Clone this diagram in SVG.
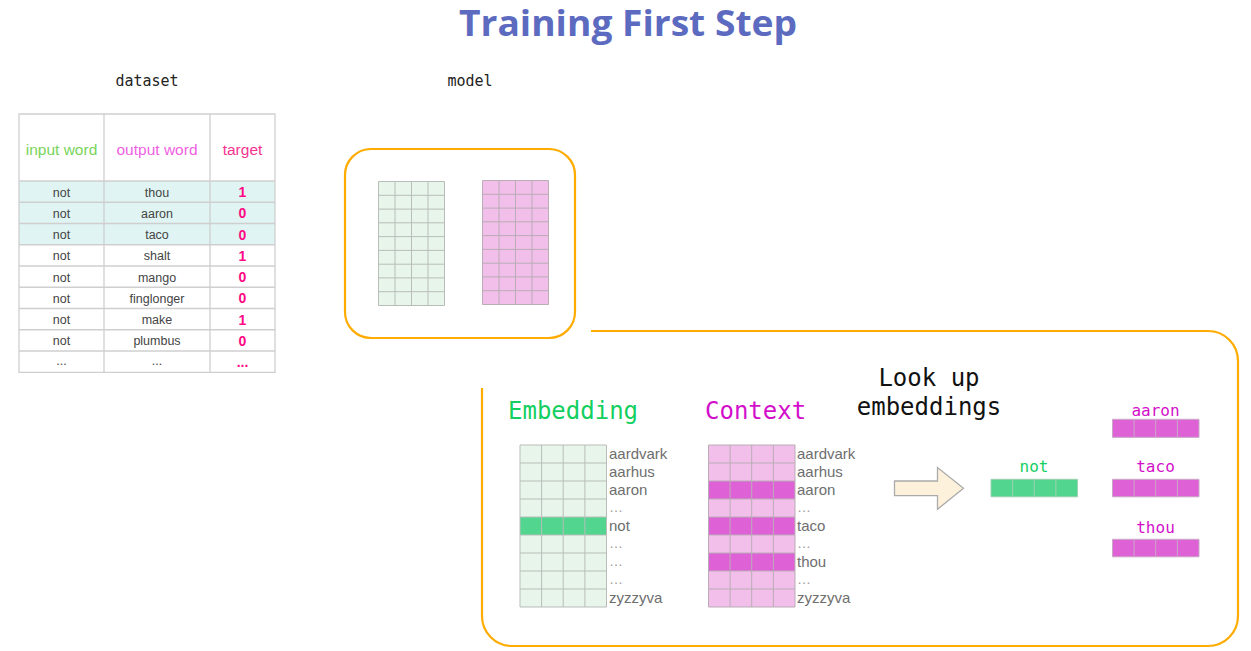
<svg xmlns="http://www.w3.org/2000/svg" width="1251" height="651" viewBox="0 0 1251 651">
<style>
.mono{font-family:"DejaVu Sans Mono","Liberation Mono",monospace}
.sans{font-family:"Liberation Sans",Arial,sans-serif}
.cell{font-family:"Liberation Sans",Arial,sans-serif;font-size:12.5px;fill:#444;text-anchor:middle}
.tgt{font-family:"Liberation Sans",Arial,sans-serif;font-size:14px;font-weight:bold;fill:#ff0a84;text-anchor:middle}
.grid{stroke:#cfcfcf;stroke-width:1.3;fill:none}
.mgrid{stroke:#b8bdb9;stroke-width:1;fill:none}
.pgrid{stroke:#b9adb6;stroke-width:1;fill:none}
.lbl{font-family:"Liberation Sans",Arial,sans-serif;font-size:15px;fill:#6e6e6e}
.dots{font-family:"Liberation Sans",Arial,sans-serif;font-size:14px;fill:#9a9a9a}
.box{fill:none;stroke:#ffab00;stroke-width:2.2}
.g1{fill:#e8f5ea}
.g2{fill:#52d68f}
.p1{fill:#f2bfea}
.p2{fill:#de62d6}
</style>

<g id="title">
<text x="628" y="36" text-anchor="middle" font-family="'Open Sans','Noto Sans',sans-serif" font-weight="bold" font-size="36" fill="#5c6bc0" textLength="338" lengthAdjust="spacingAndGlyphs">Training First Step</text>
</g>

<g id="dataset">
<text class="mono" x="147" y="86" font-size="15" text-anchor="middle" fill="#222">dataset</text>
<rect x="19" y="114" width="256" height="67" fill="#fff"/>
<rect x="19" y="181" width="256" height="63.75" fill="#e0f5f3"/>
<text class="sans" x="61.5" y="154.5" font-size="15.5" text-anchor="middle" fill="#78d45a">input word</text>
<text class="sans" x="157" y="154.5" font-size="15.5" text-anchor="middle" fill="#ef5fe2">output word</text>
<text class="sans" x="242.5" y="154.5" font-size="15.5" text-anchor="middle" fill="#f5338f">target</text>
<path class="grid" d="M19 114H275V372.3H19Z M104 114V372.3 M210 114V372.3 M19 181H275 M19 202.25H275 M19 223.5H275 M19 244.75H275 M19 266H275 M19 287.25H275 M19 308.5H275 M19 329.75H275 M19 351H275"/>
<g>
<text class="cell" x="61.5" y="196.5">not</text><text class="cell" x="157" y="196.5">thou</text><text class="tgt" x="242.5" y="197">1</text>
<text class="cell" x="61.5" y="217.7">not</text><text class="cell" x="157" y="217.7">aaron</text><text class="tgt" x="242.5" y="218.2">0</text>
<text class="cell" x="61.5" y="239">not</text><text class="cell" x="157" y="239">taco</text><text class="tgt" x="242.5" y="239.5">0</text>
<text class="cell" x="61.5" y="260.2">not</text><text class="cell" x="157" y="260.2">shalt</text><text class="tgt" x="242.5" y="260.7">1</text>
<text class="cell" x="61.5" y="281.5">not</text><text class="cell" x="157" y="281.5">mango</text><text class="tgt" x="242.5" y="282">0</text>
<text class="cell" x="61.5" y="302.7">not</text><text class="cell" x="157" y="302.7">finglonger</text><text class="tgt" x="242.5" y="303.2">0</text>
<text class="cell" x="61.5" y="324">not</text><text class="cell" x="157" y="324">make</text><text class="tgt" x="242.5" y="324.5">1</text>
<text class="cell" x="61.5" y="345.2">not</text><text class="cell" x="157" y="345.2">plumbus</text><text class="tgt" x="242.5" y="345.7">0</text>
<text class="cell" x="61.5" y="365" font-size="7" fill="#aaa">...</text><text class="cell" x="157" y="365" font-size="7" fill="#aaa">...</text><text class="tgt" x="242.5" y="367" font-size="16">...</text>
</g>
</g>

<g id="model">
<text class="mono" x="470" y="86" font-size="15" text-anchor="middle" fill="#222">model</text>
<rect class="box" x="345" y="149" width="230" height="189" rx="26"/>
<rect class="g1" x="378.5" y="181.5" width="66" height="124"/>
<path class="mgrid" d="M378.5 181.5H444.5V305.5H378.5Z M395 181.5V305.5 M411.5 181.5V305.5 M428 181.5V305.5 M378.5 195.3H444.5 M378.5 209.1H444.5 M378.5 222.8H444.5 M378.5 236.6H444.5 M378.5 250.4H444.5 M378.5 264.2H444.5 M378.5 277.9H444.5 M378.5 291.7H444.5"/>
<rect class="p1" x="482.5" y="180.5" width="66" height="124"/>
<path class="pgrid" d="M482.5 180.5H548.5V304.5H482.5Z M499 180.5V304.5 M515.5 180.5V304.5 M532 180.5V304.5 M482.5 194.3H548.5 M482.5 208.1H548.5 M482.5 221.8H548.5 M482.5 235.6H548.5 M482.5 249.4H548.5 M482.5 263.2H548.5 M482.5 276.9H548.5 M482.5 290.7H548.5"/>
</g>

<g id="detail-frame">
<path class="box" d="M482 388V616A30 30 0 0 0 512 646H1208A30 30 0 0 0 1238 616V361A30 30 0 0 0 1208 331H591"/>
</g>

<g id="embedding">
<text class="mono" x="508" y="419" font-size="24" fill="#12cf5f">Embedding</text>
<rect class="g1" x="520" y="445" width="86.5" height="162"/>
<rect class="g2" x="520" y="517" width="86.5" height="18"/>
<path class="mgrid" d="M520 445H606.5V607H520Z M541.6 445V607 M563.2 445V607 M584.9 445V607 M520 463H606.5 M520 481H606.5 M520 499H606.5 M520 517H606.5 M520 535H606.5 M520 553H606.5 M520 571H606.5 M520 589H606.5"/>
<text class="lbl" x="609" y="458.5">aardvark</text>
<text class="lbl" x="609" y="476.5">aarhus</text>
<text class="lbl" x="609" y="494.5">aaron</text>
<text class="dots" x="609" y="512">…</text>
<text class="lbl" x="609" y="530.5">not</text>
<text class="dots" x="609" y="548">…</text>
<text class="dots" x="609" y="566">…</text>
<text class="dots" x="609" y="584">…</text>
<text class="lbl" x="609" y="602.5">zyzzyva</text>
</g>

<g id="context">
<text class="mono" x="705" y="419" font-size="24" fill="#d30fcb">Context</text>
<rect class="p1" x="708.5" y="445" width="86.5" height="162"/>
<rect class="p2" x="708.5" y="481" width="86.5" height="18"/>
<rect class="p2" x="708.5" y="517" width="86.5" height="18"/>
<rect class="p2" x="708.5" y="553" width="86.5" height="18"/>
<path class="pgrid" d="M708.5 445H795V607H708.5Z M730.1 445V607 M751.7 445V607 M773.4 445V607 M708.5 463H795 M708.5 481H795 M708.5 499H795 M708.5 517H795 M708.5 535H795 M708.5 553H795 M708.5 571H795 M708.5 589H795"/>
<text class="lbl" x="797" y="458.5">aardvark</text>
<text class="lbl" x="797" y="476.5">aarhus</text>
<text class="lbl" x="797" y="494.5">aaron</text>
<text class="dots" x="797" y="512">…</text>
<text class="lbl" x="797" y="530.5">taco</text>
<text class="dots" x="797" y="548">…</text>
<text class="lbl" x="797" y="566.5">thou</text>
<text class="dots" x="797" y="584">…</text>
<text class="lbl" x="797" y="602.5">zyzzyva</text>
</g>

<g id="lookup-label">
<text class="mono" x="929" y="386" font-size="24" text-anchor="middle" fill="#111">Look up</text>
<text class="mono" x="929" y="415" font-size="24" text-anchor="middle" fill="#111">embeddings</text>
</g>

<g id="connectors">
<path d="M894.5 481H937.5V467.5L963.5 488.3L937.5 509.3V495.7H894.5Z" fill="#fdf1dc" stroke="#ababab" stroke-width="1.3"/>
</g>

<g id="not-vector">
<text class="mono" x="1034" y="472" font-size="16" text-anchor="middle" fill="#12cf5f">not</text>
<rect class="g2" x="991" y="479.3" width="86.5" height="17.5"/>
<path stroke="#9fcfb0" stroke-width="1" fill="none" d="M991 479.3H1077.5V496.8H991Z M1012.6 479.3V496.8 M1034.2 479.3V496.8 M1055.9 479.3V496.8"/>
</g>

<g id="aaron-vector">
<text class="mono" x="1155.5" y="415.5" font-size="16" text-anchor="middle" fill="#d30fcb">aaron</text>
<rect class="p2" x="1112.5" y="419.3" width="86.5" height="18"/>
<path stroke="#c9a6c6" stroke-width="1" fill="none" d="M1112.5 419.3H1199V437.3H1112.5Z M1134.1 419.3V437.3 M1155.7 419.3V437.3 M1177.4 419.3V437.3"/>
</g>

<g id="taco-vector">
<text class="mono" x="1155.5" y="472" font-size="16" text-anchor="middle" fill="#d30fcb">taco</text>
<rect class="p2" x="1112.5" y="479.3" width="86.5" height="17.5"/>
<path stroke="#c9a6c6" stroke-width="1" fill="none" d="M1112.5 479.3H1199V496.8H1112.5Z M1134.1 479.3V496.8 M1155.7 479.3V496.8 M1177.4 479.3V496.8"/>
</g>

<g id="thou-vector">
<text class="mono" x="1155.5" y="533" font-size="16" text-anchor="middle" fill="#d30fcb">thou</text>
<rect class="p2" x="1112.5" y="539.3" width="86.5" height="17.5"/>
<path stroke="#c9a6c6" stroke-width="1" fill="none" d="M1112.5 539.3H1199V556.8H1112.5Z M1134.1 539.3V556.8 M1155.7 539.3V556.8 M1177.4 539.3V556.8"/>
</g>
</svg>
